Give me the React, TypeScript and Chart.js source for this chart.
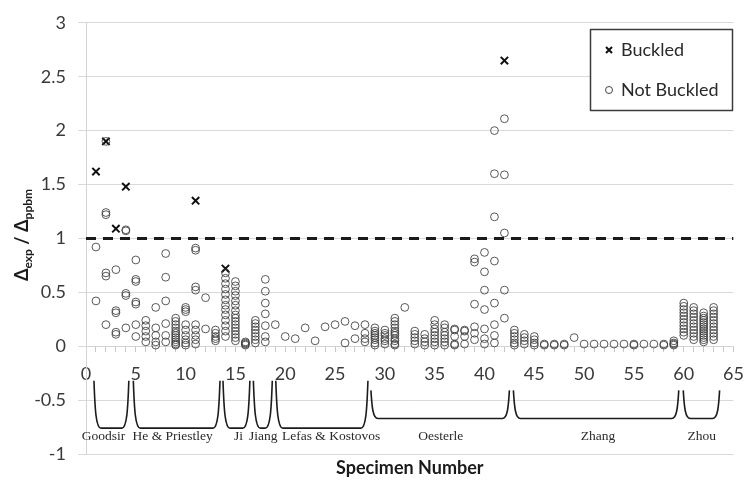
import React, { useEffect, useRef } from 'react';
import { Chart, registerables } from 'chart.js';

Chart.register(...registerables);

// ---------- data ----------
const yMin = -1;
const yMax = 3;
const yStep = 0.5;
const xMin = 0;
const xMax = 65;
const xLabelStep = 5;

const thresholdRatio = 1;

const buckledSpecimen = [1, 2, 3, 4, 11, 14, 42];
const buckledRatio = [1.62, 1.9, 1.09, 1.48, 1.35, 0.72, 2.65];

const notBuckledSpecimen = [
  1, 2, 3, 4, 5, 6, 7, 8, 9, 10, 11, 12, 13, 14, 15, 16, 17, 18, 19, 20, 21,
  22, 23, 24, 25, 26, 27, 28, 29, 30, 31, 32, 33, 34, 35, 36, 37, 38, 39, 40,
  41, 42, 43, 44, 45, 46, 47, 48, 49, 50, 51, 52, 53, 54, 55, 56, 57, 58, 59,
  60, 61, 62, 63,
];
const notBuckledRatios: number[][] = [
  [0.92, 0.42],
  [1.9, 1.24, 1.22, 0.68, 0.65, 0.2],
  [0.71, 0.33, 0.31, 0.13, 0.11],
  [1.08, 1.07, 0.49, 0.47, 0.17],
  [0.8, 0.62, 0.6, 0.41, 0.39, 0.2, 0.09],
  [0.24, 0.19, 0.14, 0.09, 0.04],
  [0.36, 0.17, 0.1, 0.04, 0.01],
  [0.86, 0.64, 0.42, 0.21, 0.1, 0.04],
  [0.26, 0.23, 0.2, 0.17, 0.14, 0.12, 0.1, 0.08, 0.06, 0.04, 0.02, 0.01],
  [0.36, 0.34, 0.32, 0.2, 0.15, 0.1, 0.06, 0.03, 0.01],
  [0.91, 0.89, 0.55, 0.52, 0.2, 0.15, 0.1, 0.06, 0.02],
  [0.45, 0.16],
  [0.15, 0.12, 0.09, 0.07, 0.05],
  [0.68, 0.63, 0.58, 0.53, 0.48, 0.43, 0.38, 0.34, 0.29, 0.24, 0.19, 0.14, 0.09],
  [0.6, 0.56, 0.51, 0.47, 0.42, 0.38, 0.33, 0.29, 0.26, 0.23, 0.2, 0.17, 0.14, 0.11, 0.08, 0.05],
  [0.04, 0.03, 0.02, 0.01],
  [0.24, 0.21, 0.18, 0.15, 0.12, 0.09, 0.06, 0.03],
  [0.62, 0.51, 0.4, 0.3, 0.19, 0.09, 0.04],
  [0.2],
  [0.09],
  [0.07],
  [0.17],
  [0.05],
  [0.18],
  [0.2],
  [0.23, 0.03],
  [0.19, 0.07],
  [0.2, 0.12, 0.07, 0.04],
  [0.17, 0.14, 0.12, 0.1, 0.08, 0.06, 0.03, 0.01],
  [0.15, 0.12, 0.1, 0.07, 0.05, 0.02],
  [0.26, 0.23, 0.2, 0.17, 0.14, 0.12, 0.1, 0.07, 0.05, 0.02, 0.01],
  [0.36],
  [0.14, 0.11, 0.08, 0.05, 0.02],
  [0.11, 0.07, 0.04, 0.01],
  [0.24, 0.2, 0.16, 0.13, 0.1, 0.07, 0.04, 0.01],
  [0.2, 0.17, 0.13, 0.1, 0.07, 0.04, 0.01],
  [0.16, 0.15, 0.09, 0.02, 0.01],
  [0.15, 0.14, 0.09, 0.02],
  [0.81, 0.78, 0.39, 0.18, 0.12, 0.06],
  [0.87, 0.69, 0.52, 0.34, 0.16, 0.07, 0.02],
  [2.0, 1.6, 1.2, 0.79, 0.4, 0.2, 0.1, 0.03],
  [2.11, 1.59, 1.05, 0.52, 0.26],
  [0.15, 0.12, 0.09, 0.06, 0.03, 0.01],
  [0.11, 0.08, 0.05, 0.02],
  [0.09, 0.06, 0.03, 0.01],
  [0.02, 0.01],
  [0.02, 0.01],
  [0.02, 0.01],
  [0.08],
  [0.02],
  [0.02],
  [0.02],
  [0.02],
  [0.02],
  [0.02, 0.01],
  [0.02],
  [0.02],
  [0.02, 0.01],
  [0.05, 0.03, 0.02, 0.01],
  [0.4, 0.37, 0.34, 0.31, 0.28, 0.25, 0.22, 0.19, 0.16, 0.13, 0.1],
  [0.36, 0.33, 0.3, 0.27, 0.24, 0.21, 0.18, 0.15, 0.12, 0.09, 0.06],
  [0.31, 0.28, 0.26, 0.24, 0.22, 0.2, 0.18, 0.16, 0.14, 0.12, 0.1, 0.08, 0.06, 0.04],
  [0.36, 0.33, 0.3, 0.27, 0.24, 0.21, 0.18, 0.15, 0.12, 0.09, 0.06],
];

const groupNames = ['Goodsir', 'He & Priestley', 'Ji', 'Jiang', 'Lefas & Kostovos', 'Oesterle', 'Zhang', 'Zhou'];
const groupStart = [0.8, 4.75, 13.75, 16.8, 19.05, 28.6, 42.9, 59.95];
const groupEnd = [4.3, 13.45, 16.45, 18.7, 28.3, 42.5, 59.5, 63.6];
const groupLabelX = [1.75, 8.7, 15.3, 17.8, 24.6, 35.6, 51.4, 61.8];
const braceTop = [-0.32, -0.32, -0.32, -0.32, -0.32, -0.41, -0.41, -0.41];
const braceBottom = [-0.76, -0.76, -0.76, -0.76, -0.76, -0.67, -0.67, -0.67];
const groupLabelY = -0.84;

const legendLabels = ['Buckled', 'Not Buckled'];
const xTitle = 'Specimen Number';

// ---------- component ----------
const W = 756;
const H = 483;

export default function App() {
  const ref = useRef<HTMLCanvasElement | null>(null);

  useEffect(() => {
    if (!ref.current) return;

    const nbData: { x: number; y: number }[] = [];
    notBuckledSpecimen.forEach((s, i) => {
      notBuckledRatios[i].forEach((v) => nbData.push({ x: s, y: v }));
    });
    const bData = buckledSpecimen.map((s, i) => ({ x: s, y: buckledRatio[i] }));

    const extras = {
      id: 'extras',
      afterDraw(chart: any) {
        const ctx = chart.ctx as CanvasRenderingContext2D;
        const xs = chart.scales.x;
        const ys = chart.scales.y;
        const area = chart.chartArea;
        ctx.save();

        // braces
        ctx.strokeStyle = '#1c1c1c';
        ctx.lineWidth = 1.6;
        ctx.lineJoin = 'round';
        for (let i = 0; i < groupNames.length; i++) {
          const xa = xs.getPixelForValue(groupStart[i]);
          const xb = xs.getPixelForValue(groupEnd[i]);
          const yt = ys.getPixelForValue(braceTop[i]);
          const yb = ys.getPixelForValue(braceBottom[i]);
          const h = yb - yt;
          ctx.beginPath();
          ctx.moveTo(xa, yt);
          ctx.bezierCurveTo(xa + 1, yt + h * 0.6, xa + 2, yb, xa + 7, yb);
          ctx.lineTo(xb - 7, yb);
          ctx.bezierCurveTo(xb - 2, yb, xb - 1, yt + h * 0.6, xb, yt);
          ctx.stroke();
        }

        // group labels
        ctx.fillStyle = '#2a2a2a';
        ctx.font = '13.5px "Liberation Serif", "Times New Roman", serif';
        ctx.textAlign = 'center';
        ctx.textBaseline = 'middle';
        for (let i = 0; i < groupNames.length; i++) {
          ctx.fillText(groupNames[i], xs.getPixelForValue(groupLabelX[i]), ys.getPixelForValue(groupLabelY));
        }

        // x title
        ctx.fillStyle = '#1a1a1a';
        ctx.font = 'bold 18px Lato';
        ctx.fillText(xTitle, (area.left + area.right) / 2, 468);

        // y title with subscripts
        const segs: [string, boolean][] = [
          ['Δ', false],
          ['exp', true],
          [' / ', false],
          ['Δ', false],
          ['ppbm', true],
        ];
        const mainFont = 'bold 18px Lato';
        const subFont = 'bold 12px Lato';
        let total = 0;
        const widths = segs.map(([t, sub]) => {
          ctx.font = sub ? subFont : mainFont;
          const w = ctx.measureText(t).width;
          total += w;
          return w;
        });
        ctx.save();
        ctx.translate(28, 235);
        ctx.rotate(-Math.PI / 2);
        ctx.textAlign = 'left';
        ctx.textBaseline = 'alphabetic';
        let cx = -total / 2;
        segs.forEach(([t, sub], i) => {
          ctx.font = sub ? subFont : mainFont;
          ctx.fillText(t, cx, sub ? 4 : 0);
          cx += widths[i];
        });
        ctx.restore();

        // legend
        const lx = 590.5, ly = 29.5, lw = 142, lh = 81;
        ctx.fillStyle = '#ffffff';
        ctx.fillRect(lx, ly, lw, lh);
        ctx.strokeStyle = '#3c3c3c';
        ctx.lineWidth = 1.5;
        ctx.strokeRect(lx, ly, lw, lh);
        // cross marker
        ctx.strokeStyle = '#111';
        ctx.lineWidth = 2;
        ctx.beginPath();
        ctx.moveTo(606, 47); ctx.lineTo(612, 53);
        ctx.moveTo(612, 47); ctx.lineTo(606, 53);
        ctx.stroke();
        // circle marker
        ctx.strokeStyle = '#444';
        ctx.lineWidth = 1;
        ctx.beginPath();
        ctx.arc(609, 90, 3.5, 0, Math.PI * 2);
        ctx.stroke();
        ctx.fillStyle = '#2a2a2a';
        ctx.font = '18px Lato';
        ctx.textAlign = 'left';
        ctx.textBaseline = 'middle';
        ctx.fillText(legendLabels[0], 621, 50);
        ctx.fillText(legendLabels[1], 621, 90);

        ctx.restore();
      },
    };

    const chart = new Chart(ref.current, {
      type: 'scatter',
      data: {
        datasets: [
          {
            type: 'line',
            label: 'threshold',
            data: [
              { x: xMin, y: thresholdRatio },
              { x: xMax, y: thresholdRatio },
            ],
            borderColor: '#1a1a1a',
            borderWidth: 3,
            borderDash: [10, 7],
            pointRadius: 0,
            fill: false,
          } as any,
          {
            label: legendLabels[1],
            data: nbData,
            pointStyle: 'circle',
            pointRadius: 3.9,
            pointBorderWidth: 1,
            pointBorderColor: 'rgba(60,60,60,0.85)',
            pointBackgroundColor: 'rgba(0,0,0,0)',
          },
          {
            label: legendLabels[0],
            data: bData,
            pointStyle: 'crossRot',
            pointRadius: 5.2,
            pointBorderWidth: 2,
            pointBorderColor: '#111',
            pointBackgroundColor: '#111',
          },
        ],
      },
      options: {
        animation: false,
        responsive: false,
        maintainAspectRatio: false,
        devicePixelRatio: 1,
        layout: { padding: { left: 0, right: 11, top: 16, bottom: 29 } },
        plugins: {
          legend: { display: false },
          tooltip: { enabled: false },
        },
        scales: {
          x: {
            type: 'linear',
            position: { y: 0 } as any,
            min: xMin,
            max: xMax,
            grid: {
              drawOnChartArea: false,
              drawTicks: true,
              tickLength: 5,
              color: '#c8c8c8',
            },
            border: { display: true, color: '#d4d4d4' },
            ticks: {
              stepSize: 1,
              autoSkip: false,
              maxRotation: 0,
              padding: 12,
              color: '#3a3a3a',
              font: { family: 'Lato', size: 18 },
              callback: (v: any) => (Number(v) % xLabelStep === 0 ? String(v) : ''),
            },
          },
          y: {
            type: 'linear',
            min: yMin,
            max: yMax,
            afterFit: (scale: any) => {
              scale.width = 86;
            },
            grid: {
              color: '#d9d9d9',
              tickLength: 8,
              lineWidth: 1,
            },
            border: { display: true, color: '#d4d4d4' },
            ticks: {
              stepSize: yStep,
              padding: 12,
              color: '#3a3a3a',
              font: { family: 'Lato', size: 18 },
              callback: (v: any) => String(v),
            },
          },
        },
      },
      plugins: [extras],
    });

    return () => chart.destroy();
  }, []);

  return (
    <div style={{ position: 'fixed', left: 0, top: 0, width: W, height: H, background: '#fff' }}>
      <canvas ref={ref} width={W} height={H} style={{ width: W, height: H, display: 'block' }} />
    </div>
  );
}
